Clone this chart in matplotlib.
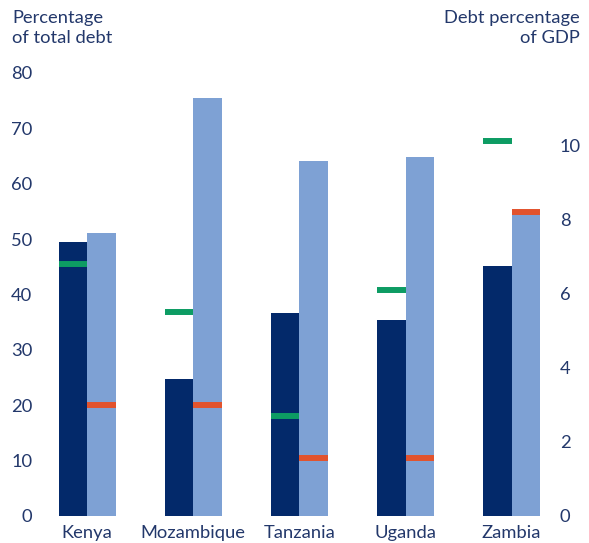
import numpy as np
import matplotlib
matplotlib.use("Agg")
import matplotlib.pyplot as plt

plt.rcParams["font.family"] = ["Lato", "DejaVu Sans"]

countries = ["Kenya", "Mozambique", "Tanzania", "Uganda", "Zambia"]
# left axis: percentage of total debt
share_dark = [49.5, 24.7, 36.7, 35.4, 45.1]
share_light = [51.1, 75.5, 64.1, 64.8, 55.3]
# right axis: debt percentage of GDP
gdp_green = [6.8, 5.5, 2.7, 6.1, 10.1]
gdp_orange = [3.0, 3.0, 1.55, 1.55, 8.2]

left_ticks = [0, 10, 20, 30, 40, 50, 60, 70, 80]
right_ticks = [0, 2, 4, 6, 8, 10]

DARK = "#03296a"
LIGHT = "#7ea1d4"
GREEN = "#0d9c63"
ORANGE = "#e2532d"
TEXT = "#23386b"
FS = 13.2

W, H = 589, 543
fig = plt.figure(figsize=(W / 100, H / 100), dpi=100)
ax = fig.add_axes([40 / W, (H - 516) / H, 515 / W, 443 / H])
ax2 = ax.twinx()

x = np.arange(len(countries))
bw = 0.2686
ax.bar(x - bw / 2, share_dark, width=bw, color=DARK, linewidth=0)
ax.bar(x + bw / 2, share_light, width=bw, color=LIGHT, linewidth=0)

lw = 4.3
ax2.hlines(gdp_green, x - bw, x, colors=GREEN, linewidth=lw)
ax2.hlines(gdp_orange, x, x + bw, colors=ORANGE, linewidth=lw)
for coll in ax2.collections:
    coll.set_capstyle("butt")

ax.set_xlim(-0.445, 4.409)
ax.set_ylim(0, 80)
ax2.set_ylim(0, 443 / 37.1)

ax.set_xticks(x)
ax.set_xticklabels(countries)
ax.set_yticks(left_ticks)
ax2.set_yticks(right_ticks)

for a in (ax, ax2):
    for s in a.spines.values():
        s.set_visible(False)
    a.tick_params(length=0, labelsize=FS, labelcolor=TEXT)
ax.tick_params(axis="y", pad=5.5)
ax.tick_params(axis="x", pad=6.5)
ax2.tick_params(axis="y", pad=3.6)

fig.text(12 / W, 1 - 10 / H, "Percentage\nof total debt", ha="left", va="top",
         fontsize=FS, color=TEXT, linespacing=1.3)
fig.text(580 / W, 1 - 10 / H, "Debt percentage\nof GDP", ha="right", va="top",
         fontsize=FS, color=TEXT, linespacing=1.3, multialignment="right")

fig.savefig("out.png", dpi=100)
